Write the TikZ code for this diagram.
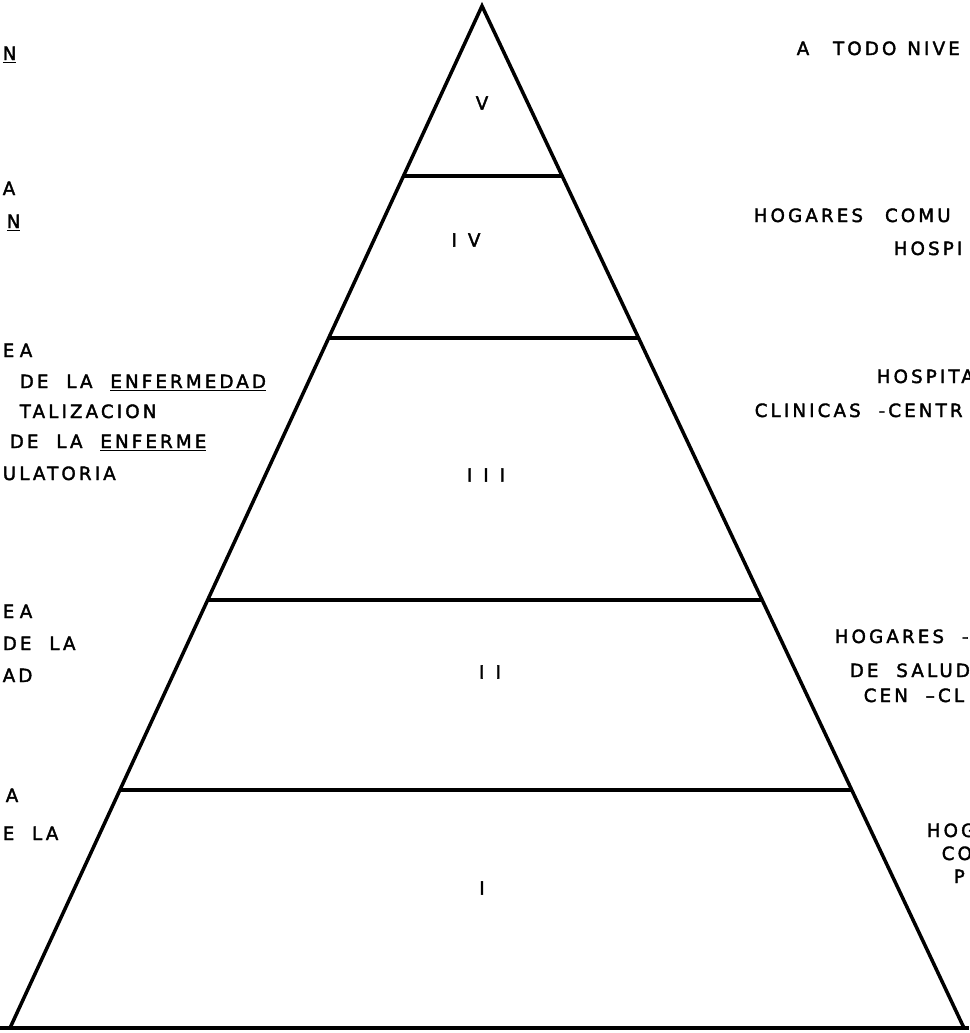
\documentclass[tikz,border=0pt]{standalone}
\usepackage{fontspec}
\setmainfont{DejaVu Sans}[LetterSpace=17,WordSpace=2,FakeBold=2]
\usepackage{tikz}
\usetikzlibrary{calc}
\tikzset{
  lft/.style={anchor=base west, inner sep=0pt},
  rgt/.style={anchor=base west, inner sep=0pt},
  lvl/.style={inner sep=0pt},
}
\newcommand{\ul}[1]{\underline{#1}}

\begin{document}
\begin{tikzpicture}[x=0.025cm,y=-0.025cm,line width=2.5pt,
  font=\fontsize{13}{16}\selectfont]
\useasboundingbox (0,0) rectangle (969,1033);
% pyramid
\coordinate (apex) at (482,6);
\coordinate (bl) at (10,1028);
\coordinate (br) at (964,1028);
\draw[line join=miter] (bl) -- (apex) -- (br);
\draw (0,1028) -- (969,1028);
\foreach \t in {0.1663,0.3249,0.5812,0.7671}
  \draw ($(apex)!\t!(bl)$) -- ($(apex)!\t!(br)$);
% levels
\node[lvl] (lv5) at (482,103) {V};
\node[lvl] (lv4) at (466,240) {I\hspace{0.6em}V};
\node[lvl] (lv3) at (486,475) {I\hspace{0.6em}I\hspace{0.6em}I};
\node[lvl] (lv2) at (490,672) {I\hspace{0.6em}I};
\node[lvl] (lv1) at (482,888) {I};
% left column
\node[lft] (l5) at (1,60) {\ul{N}};
\node[lft] (l4a) at (1,195) {A};
\node[lft] (l4b) at (5,228) {\ul{N}};
\node[lft] (l3a) at (1,357) {E\hspace{0.3em}A};
\node[lft] (l3b) at (18,388) {DE LA \ul{ENFERMEDAD}};
\node[lft] (l3c) at (18,418) {TALIZACION};
\node[lft] (l3d) at (8,448) {DE LA \ul{ENFERME}};
\node[lft] (l3e) at (1,480) {ULATORIA};
\node[lft] (l2a) at (1,618) {E\hspace{0.3em}A};
\node[lft] (l2b) at (1,650) {DE LA};
\node[lft] (l2c) at (1,682) {AD};
\node[lft] (l1a) at (4,802) {A};
\node[lft] (l1b) at (1,840) {E LA};
% right column
\node[rgt] (r5) at (795,55) {A\hspace{1.3em}TODO\hspace{0.6em}NIVE};
\node[rgt] (r4a) at (752,222) {HOGARES\hspace{1.2em}COMU};
\node[rgt] (r4b) at (892,255) {HOSPI};
\node[rgt] (r3a) at (875,383) {HOSPITA};
\node[rgt] (r3b) at (753,417) {CLINICAS -CENTR};
\node[rgt] (r2a) at (833,643) {HOGARES -};
\node[rgt] (r2b) at (848,677) {DE SALUD};
\node[rgt] (r2c) at (862,702) {CEN --CL};
\node[rgt] (r1a) at (925,837) {HOG};
\node[rgt] (r1b) at (940,860) {CO};
\node[rgt] (r1c) at (952,883) {P};
\end{tikzpicture}
\end{document}
